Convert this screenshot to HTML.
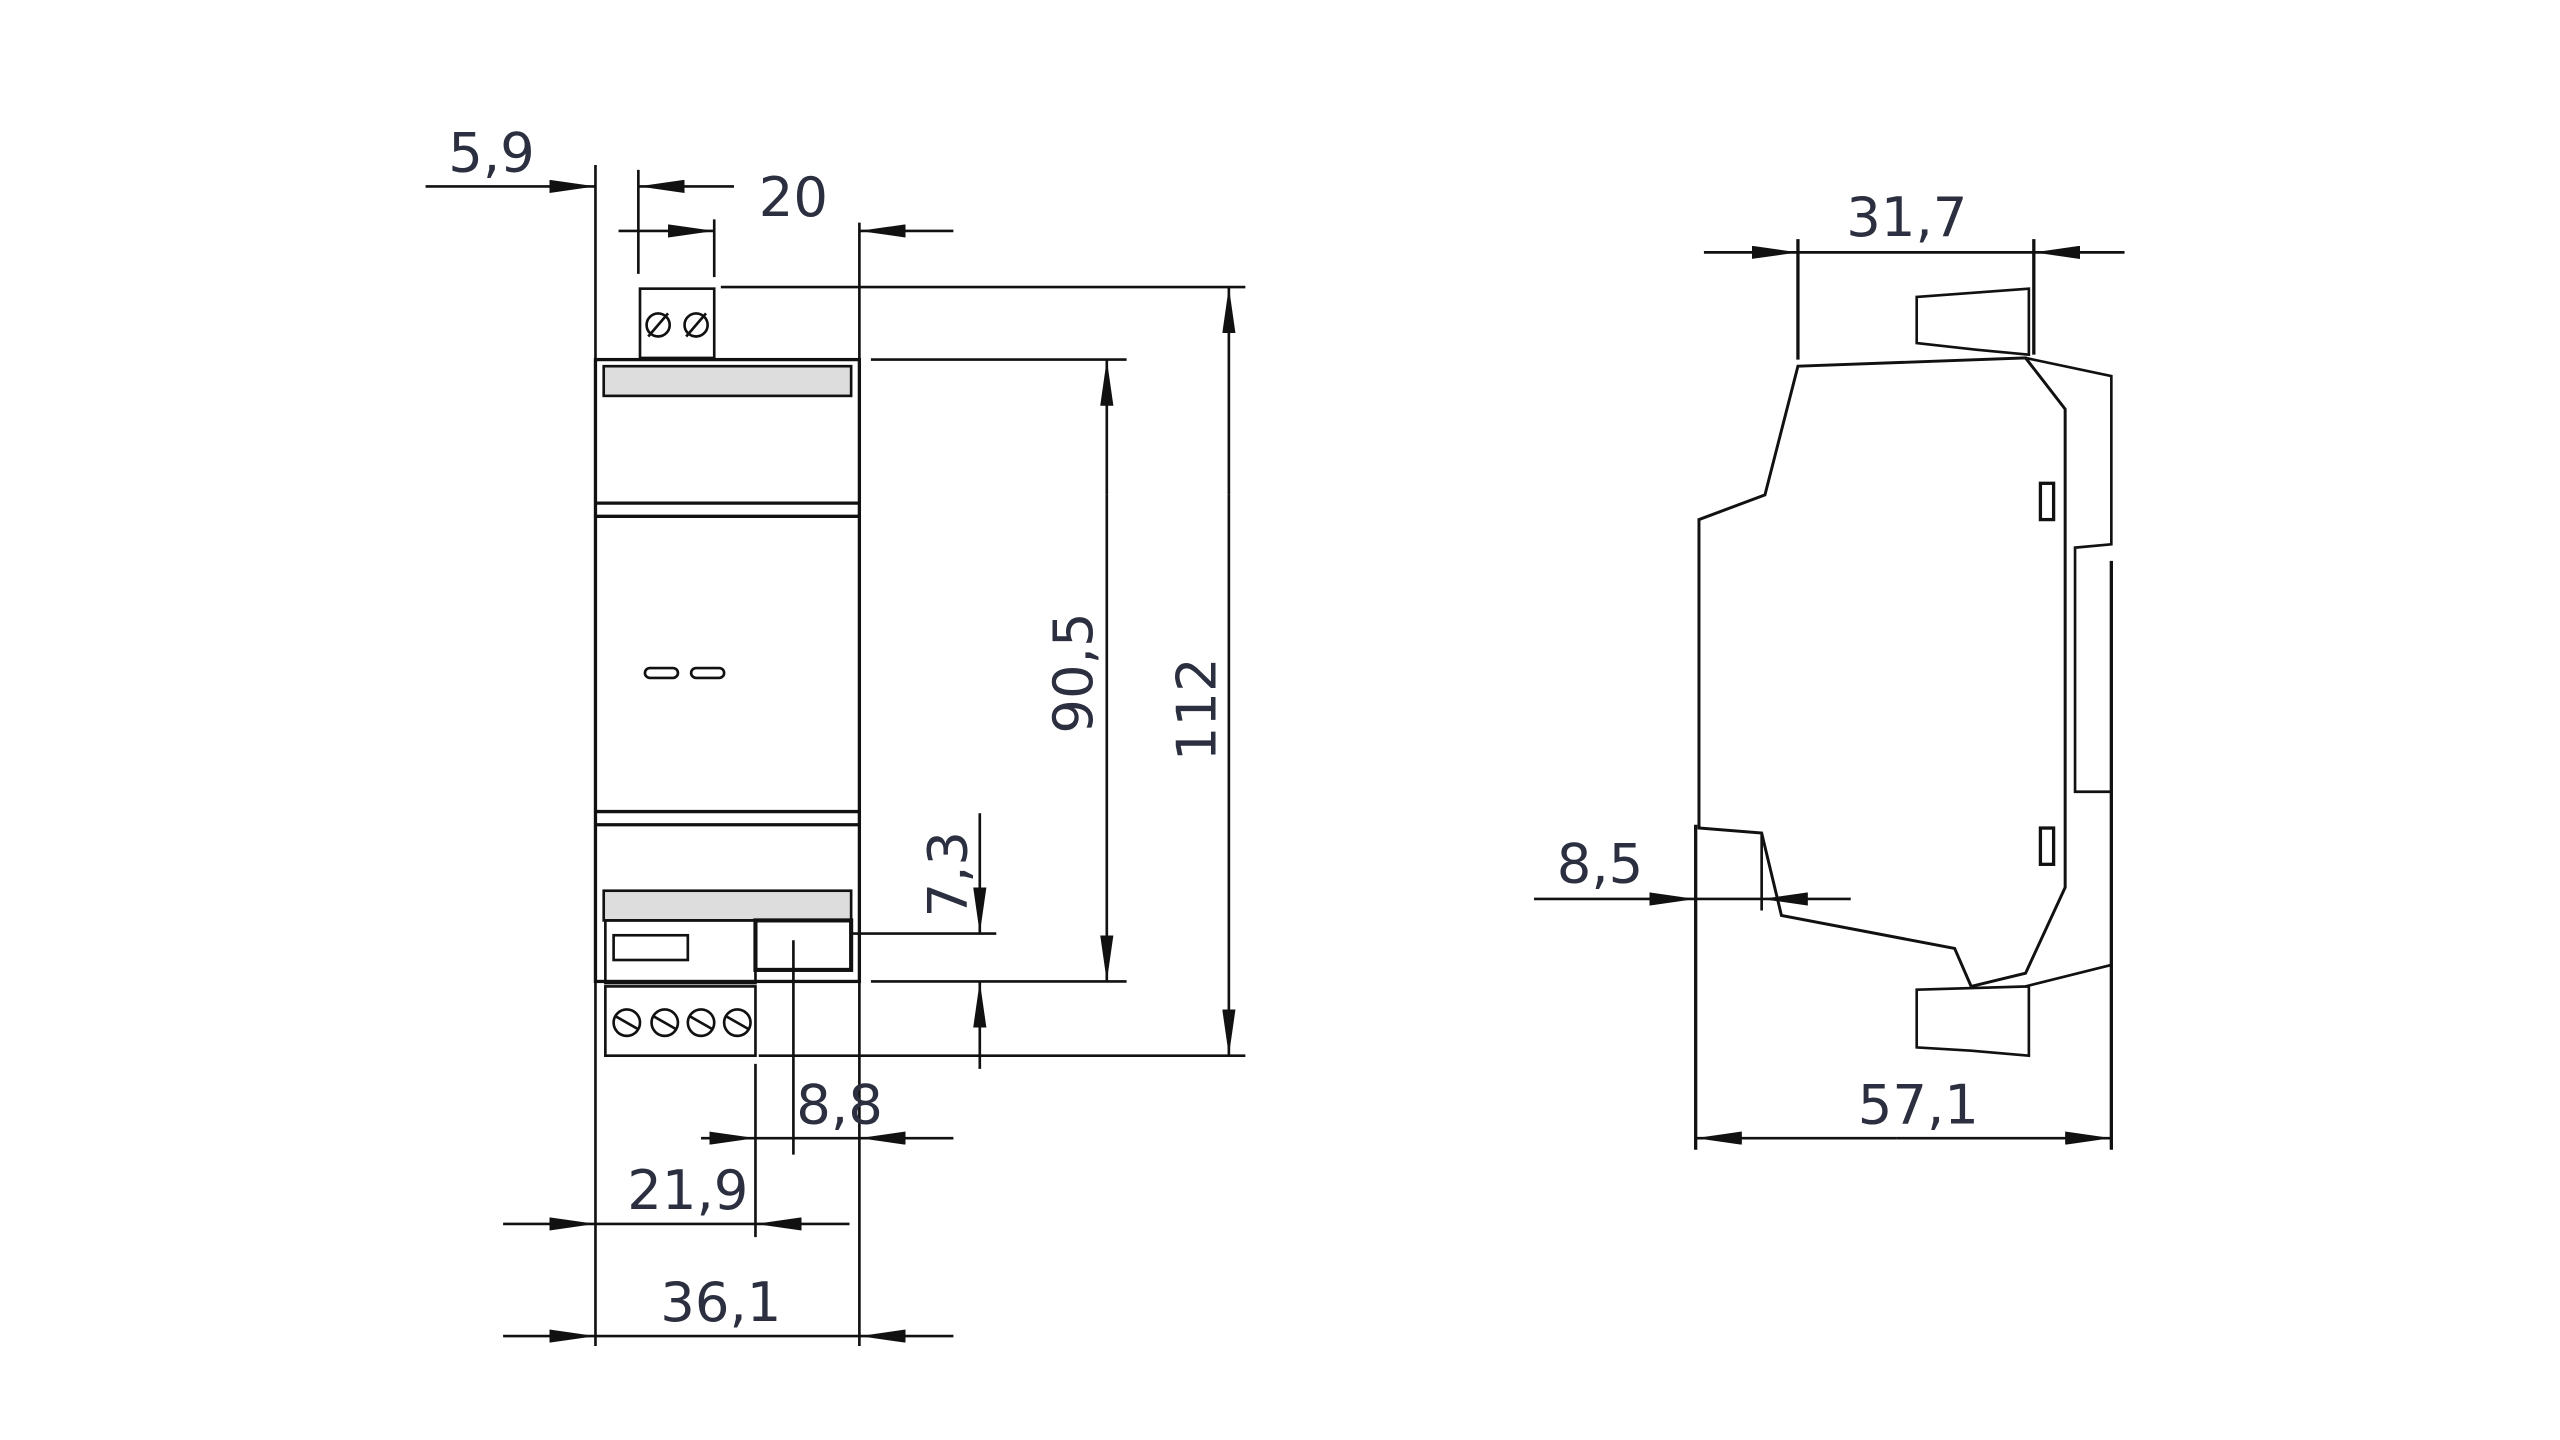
<!DOCTYPE html>
<html><head><meta charset="utf-8"><style>
html,body{margin:0;padding:0;background:#fff;width:2560px;height:1440px;overflow:hidden}
svg{display:block}
text{font-family:"DejaVu Sans","Liberation Sans",sans-serif;font-size:33px;fill:#2b2f3f}
</style></head><body>
<svg width="2560" height="1440" viewBox="0 0 1552 873" preserveAspectRatio="none" xmlns="http://www.w3.org/2000/svg">
<defs>
<marker id="a" viewBox="0 0 28 8" refX="28" refY="4" markerWidth="28" markerHeight="8" markerUnits="userSpaceOnUse" orient="auto"><path d="M0,0 L28,4 L0,8 z" fill="#111"/></marker>
</defs>
<g stroke="#111" stroke-width="1.6" fill="none">
<!-- LEFT VIEW extension lines -->
<line x1="361" y1="100" x2="361" y2="816"/>
<line x1="521" y1="135" x2="521" y2="816"/>
<line x1="387" y1="103" x2="387" y2="166"/>
<line x1="433" y1="133" x2="433" y2="168"/>
<line x1="437" y1="174" x2="755" y2="174"/>
<line x1="528" y1="218" x2="683" y2="218"/>
<line x1="528" y1="595" x2="683" y2="595"/>
<line x1="460" y1="640" x2="755" y2="640"/>
<line x1="515" y1="566" x2="604" y2="566"/>
<line x1="481" y1="570" x2="481" y2="700"/>
<line x1="458" y1="645" x2="458" y2="750"/>
<!-- dims -->
<line x1="258" y1="113" x2="361" y2="113" marker-end="url(#a)"/>
<line x1="445" y1="113" x2="387" y2="113" marker-end="url(#a)"/>
<line x1="375" y1="140" x2="433" y2="140" marker-end="url(#a)"/>
<line x1="578" y1="140" x2="521" y2="140" marker-end="url(#a)"/>
<line x1="671" y1="300" x2="671" y2="218" marker-end="url(#a)"/>
<line x1="671" y1="300" x2="671" y2="595" marker-end="url(#a)"/>
<line x1="745" y1="300" x2="745" y2="174" marker-end="url(#a)"/>
<line x1="745" y1="300" x2="745" y2="640" marker-end="url(#a)"/>
<line x1="594" y1="493" x2="594" y2="566" marker-end="url(#a)"/>
<line x1="594" y1="648" x2="594" y2="595" marker-end="url(#a)"/>
<line x1="425" y1="690" x2="458" y2="690" marker-end="url(#a)"/>
<line x1="578" y1="690" x2="521" y2="690" marker-end="url(#a)"/>
<line x1="458" y1="690" x2="521" y2="690"/>
<line x1="305" y1="742" x2="361" y2="742" marker-end="url(#a)"/>
<line x1="515" y1="742" x2="458" y2="742" marker-end="url(#a)"/>
<line x1="361" y1="742" x2="458" y2="742"/>
<line x1="305" y1="810" x2="361" y2="810" marker-end="url(#a)"/>
<line x1="578" y1="810" x2="521" y2="810" marker-end="url(#a)"/>
<line x1="361" y1="810" x2="521" y2="810"/>
<!-- body -->
<rect x="388" y="175" width="45" height="42"/>
<circle cx="399" cy="197" r="7"/><circle cx="422" cy="197" r="7"/>
<line x1="393" y1="204" x2="405" y2="190"/><line x1="416" y1="204" x2="428" y2="190"/>
<rect x="361" y="218" width="160" height="377" stroke-width="2"/>
<rect x="366" y="222" width="150" height="18" fill="#ddd"/>
<line x1="361" y1="305" x2="521" y2="305" stroke-width="2"/>
<line x1="361" y1="313" x2="521" y2="313" stroke-width="2"/>
<line x1="361" y1="492" x2="521" y2="492" stroke-width="2"/>
<line x1="361" y1="500" x2="521" y2="500" stroke-width="2"/>
<rect x="391" y="405" width="20" height="6" rx="3"/>
<rect x="419" y="405" width="20" height="6" rx="3"/>
<rect x="366" y="540" width="150" height="18" fill="#ddd"/>
<rect x="367" y="558" width="91" height="38"/>
<rect x="372" y="567" width="45" height="15"/>
<rect x="458" y="558" width="58" height="30" stroke-width="2.5"/>
<rect x="367" y="598" width="91" height="42"/>
<circle cx="380" cy="620" r="8"/><circle cx="403" cy="620" r="8"/><circle cx="425" cy="620" r="8"/><circle cx="447" cy="620" r="8"/>
<line x1="373" y1="616" x2="387" y2="624"/><line x1="396" y1="616" x2="410" y2="624"/><line x1="418" y1="616" x2="432" y2="624"/><line x1="440" y1="616" x2="454" y2="624"/>
<!-- RIGHT VIEW -->
<line x1="1090" y1="145" x2="1090" y2="218" stroke-width="2"/>
<line x1="1233" y1="145" x2="1233" y2="215" stroke-width="2"/>
<line x1="1033" y1="153" x2="1090" y2="153" marker-end="url(#a)"/>
<line x1="1288" y1="153" x2="1233" y2="153" marker-end="url(#a)"/>
<line x1="1090" y1="153" x2="1233" y2="153"/>
<path d="M1162,180 L1230,175 L1230,215 L1198,212 L1162,208 Z"/>
<path d="M1090,222 L1228,217 L1252,248 L1252,538 L1228,590 L1195,598 L1185,575 L1080,555 L1068,505 L1030,502 L1030,315 L1070,300 Z" stroke-width="1.8"/>
<path d="M1228,217 L1280,228 L1280,330 L1258,332 L1258,480 L1280,480"/>
<line x1="1280" y1="340" x2="1280" y2="697" stroke-width="2"/>
<line x1="1228" y1="598" x2="1280" y2="585"/>
<path d="M1162,600 L1230,598 L1230,640 L1195,637 L1162,635 Z"/>
<rect x="1237" y="293" width="8" height="22" stroke-width="2"/>
<rect x="1237" y="502" width="8" height="22" stroke-width="2"/>
<line x1="1028" y1="500" x2="1028" y2="697" stroke-width="2"/>
<line x1="1068" y1="505" x2="1068" y2="552"/>
<line x1="930" y1="545" x2="1028" y2="545" marker-end="url(#a)"/>
<line x1="1122" y1="545" x2="1068" y2="545" marker-end="url(#a)"/>
<line x1="1028" y1="545" x2="1068" y2="545"/>
<line x1="1150" y1="690" x2="1028" y2="690" marker-end="url(#a)"/>
<line x1="1150" y1="690" x2="1280" y2="690" marker-end="url(#a)"/>
</g>
<text x="298" y="104" text-anchor="middle">5,9</text>
<text x="481" y="131" text-anchor="middle">20</text>
<text transform="translate(662,408) rotate(-90)" text-anchor="middle">90,5</text>
<text transform="translate(737,430) rotate(-90)" text-anchor="middle">112</text>
<text transform="translate(586,530) rotate(-90)" text-anchor="middle">7,3</text>
<text x="509" y="681" text-anchor="middle">8,8</text>
<text x="417" y="733" text-anchor="middle">21,9</text>
<text x="437" y="801" text-anchor="middle">36,1</text>
<text x="1156" y="143" text-anchor="middle">31,7</text>
<text x="970" y="535" text-anchor="middle">8,5</text>
<text x="1163" y="681" text-anchor="middle">57,1</text>
</svg>
</body></html>
